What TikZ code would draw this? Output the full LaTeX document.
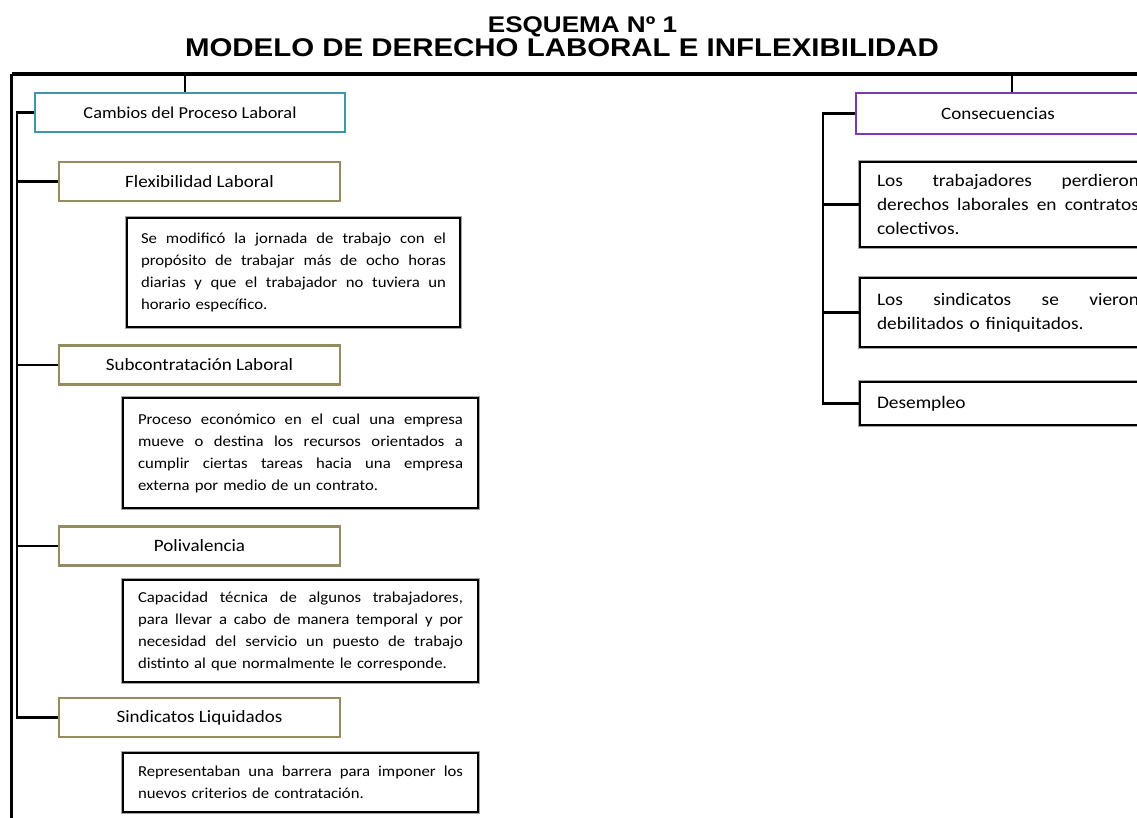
\documentclass[tikz,border=0pt]{standalone}
\usepackage{fontspec}
\setmainfont{Carlito}[FakeStretch=1.1]
\newfontfamily\titlefont{Liberation Sans}[FakeStretch=1.15]
\usetikzlibrary{positioning}

\definecolor{headolive}{RGB}{148,140,96}
\definecolor{headteal}{RGB}{62,150,170}
\definecolor{headpurple}{RGB}{122,58,178}

\newcommand{\fullline}[1]{\leavevmode{\spaceskip=\fontdimen2\font plus 4\fontdimen2\font minus 0.2\fontdimen2\font\relax
	\hbox to \hsize{#1}}\\}

\begin{document}
\begin{tikzpicture}[x=0.75pt, y=-0.75pt,
		title/.style = {font=\titlefont\bfseries\fontsize{19.2}{22}\selectfont, inner sep=0pt},
		head/.style = {draw=headolive, line width=2.2pt, fill=white,
			minimum width=210.75pt, minimum height=29.25pt, inner sep=0pt,
			font=\fontsize{13}{15}\selectfont},
		desc/.style = {draw=black, line width=2pt, fill=white,
			preaction={draw=black!35, line width=3.4pt},
			align=left, text width=243.75pt, inner xsep=11.25pt, inner ysep=0pt,
			font=\fontsize{11.4}{16.5}\selectfont},
		cons/.style = {desc, text width=196.5pt, inner xsep=12.75pt,
			font=\fontsize{13.2}{18}\selectfont},
		link/.style = {draw=black, line width=1.6pt},
		frame/.style = {draw=black, line width=2.6pt}
                    ]
		\useasboundingbox (0,0) rectangle (1137,817);
		\clip (0,0) rectangle (1137,817);

		\node(t1) [title, font=\titlefont\bfseries\fontsize{17}{20}\selectfont, anchor=base] at (582.5,33) {ESQUEMA Nº 1};
		\node(t2) [title, anchor=base] at (562,56) {MODELO DE DERECHO LABORAL E INFLEXIBILIDAD};

		\coordinate (corner) at (11.5,74);
		\coordinate (tickL) at (185,74);
		\coordinate (tickR) at (1012,74);
		\coordinate (lspine) at (17,0);
		\coordinate (rspine) at (823,0);
		\draw[frame] (corner) -- (1145,74);
		\draw[frame] (corner) -- (11.5,830);

		% left column
		\node(cambios) [head, draw=headteal, minimum width=232.5pt, font=\fontsize{12.5}{15}\selectfont] at (190,112.5) {Cambios del Proceso Laboral};
		\node(flex) [head] at (199.5,181.5) {Flexibilidad Laboral};
		\node(subc) [head] at (199.5,365) {Subcontratación Laboral};
		\node(poli) [head] at (199.5,546) {Polivalencia};
		\node(sindliq) [head] at (199.5,717.5) {Sindicatos Liquidados};

		\node(flexd) [desc, text width=228.75pt, inner xsep=10.5pt, minimum height=81.75pt] at (293.5,272.5)
			{\fullline{Se modificó la jornada de trabajo con el}
			 \fullline{propósito de trabajar más de ocho horas}
			 \fullline{diarias y que el trabajador no tuviera un}
			 horario específico.};
		\node(subcd) [desc, minimum height=82.5pt] at (300.5,453)
			{\fullline{Proceso económico en el cual una empresa}
			 \fullline{mueve o destina los recursos orientados a}
			 \fullline{cumplir ciertas tareas hacia una empresa}
			 externa por medio de un contrato.};
		\node(polid) [desc, minimum height=76.5pt] at (300.5,631)
			{\fullline{Capacidad técnica de algunos trabajadores,}
			 \fullline{para llevar a cabo de manera temporal y por}
			 \fullline{necesidad del servicio un puesto de trabajo}
			 distinto al que normalmente le corresponde.};
		\node(sindliqd) [desc, minimum height=44.25pt] at (300.5,782.5)
			{\fullline{Representaban una barrera para imponer los}
			 nuevos criterios de contratación.};

		% right column
		\node(consec) [head, draw=headpurple, minimum width=213pt, minimum height=30.75pt] at (998,113.5) {Consecuencias};
		\node(perd) [cons, minimum height=63.75pt] at (1008,204.5)
			{\fullline{Los trabajadores perdieron}
			 \fullline{derechos laborales en contratos}
			 colectivos.};
		\node(debil) [cons, minimum height=51.75pt] at (1008,312.5)
			{\fullline{Los sindicatos se vieron}
			 debilitados o finiquitados.};
		\node(desemp) [cons, minimum height=32.25pt] at (1008,403.5) {Desempleo};

		\draw[link] (tickL) -- (tickL |- cambios.north);
		\draw[link] (tickR) -- (tickR |- consec.north);

		\draw[link] (cambios.west) -| (lspine |- sindliq.west) -- (sindliq.west);
		\path[link] (flex.west) edge (flex.west -| lspine)
			(subc.west) edge (subc.west -| lspine)
			(poli.west) edge (poli.west -| lspine);

		\draw[link] (consec.west) -| (rspine |- desemp.west) -- (desemp.west);
		\path[link] (perd.west) edge (perd.west -| rspine)
			(debil.west) edge (debil.west -| rspine);
	\end{tikzpicture}
\end{document}
